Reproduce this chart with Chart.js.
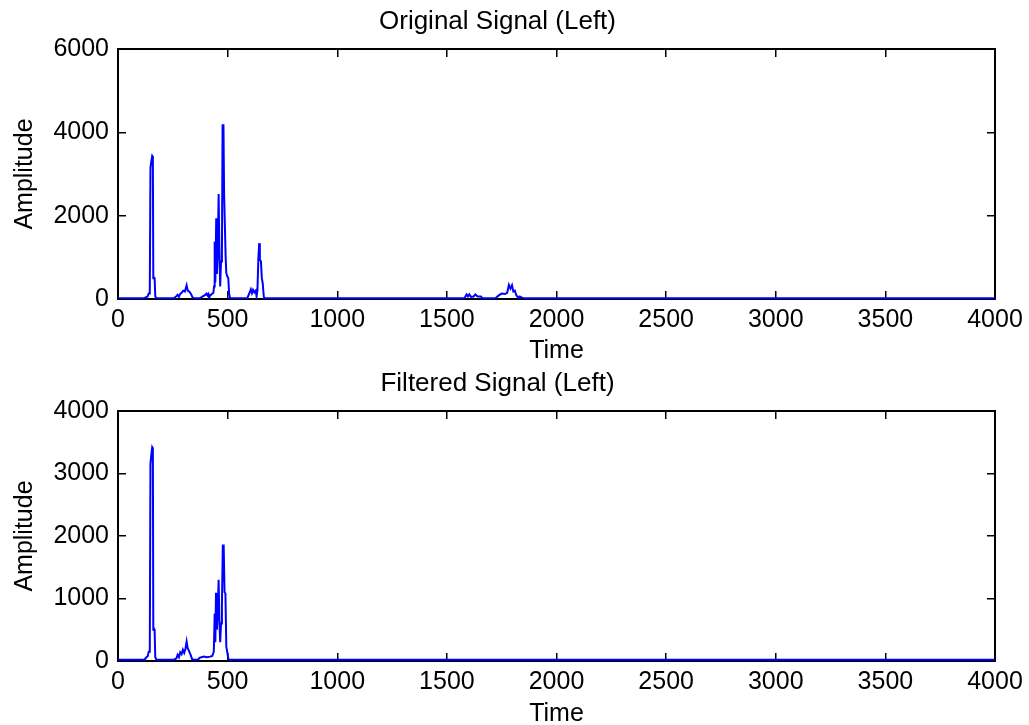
<!DOCTYPE html>
<html>
<head>
<meta charset="utf-8">
<title>Original / Filtered Signal (Left)</title>
<script src="https://cdn.jsdelivr.net/npm/chart.js@4.4.0/dist/chart.umd.min.js"></script>
<style>
  html, body { margin: 0; padding: 0; background: #fff; }
  #wrap { position: relative; width: 1029px; height: 725px; }
  #topChart { position: absolute; left: 0; top: 0; }
  #bottomChart { position: absolute; left: 0; top: 362px; }
</style>
</head>
<body>
<div id="wrap">
  <canvas id="topChart" width="1029" height="362"></canvas>
  <canvas id="bottomChart" width="1029" height="363"></canvas>
</div>
<script>
// tick labels
const timeTicks = [0, 500, 1000, 1500, 2000, 2500, 3000, 3500, 4000];
const origAmpTicks = [0, 2000, 4000, 6000];
const filtAmpTicks = [0, 1000, 2000, 3000, 4000];

// original signal
const origTime = [0, 120, 135, 140, 145, 148, 152, 156, 159, 161, 164, 167, 170, 175,
  255, 265, 272, 278, 283, 290, 298, 305, 313, 318, 325, 333, 340, 345,
  375, 385, 392, 398, 404, 408, 412,
  415, 420, 428, 435, 438, 441, 444, 448, 451, 455, 459, 462, 466, 470, 474, 477, 481, 484, 488, 491, 494, 498, 503, 507, 511,
  590, 600, 606, 611, 616, 622, 628, 632, 636, 640, 644, 647, 652, 656, 660, 665, 668,
  1580, 1590, 1596, 1602, 1610, 1622, 1630, 1640, 1655, 1662,
  1722, 1735, 1750, 1765, 1775, 1783, 1790, 1797, 1803, 1810, 1816, 1825, 1832, 1840, 1848, 4000];
const origAmp = [20, 20, 60, 130, 130, 3150, 3300, 3430, 3400, 500, 520, 500, 60, 20,
  20, 60, 100, 50, 120, 150, 200, 180, 330, 200, 180, 120, 40, 20,
  20, 60, 80, 100, 130, 90, 120,
  20, 80, 120, 150, 300, 1375, 400, 1940, 600, 1100, 2520, 1300, 300, 900, 1100, 4170, 4170, 2500, 2500, 1000, 620, 550, 500, 120, 20,
  20, 150, 230, 140, 220, 160, 200, 60, 200, 950, 1340, 950, 900, 500, 380, 60, 20,
  20, 110, 60, 110, 50, 60, 110, 60, 60, 20,
  20, 80, 130, 120, 150, 340, 250, 330, 180, 200, 100, 30, 60, 40, 20, 20];

// filtered signal
const filtTime = [0, 120, 130, 136, 140, 145, 148, 152, 156, 159, 161, 164, 167, 170, 175,
  255, 266, 272, 278, 284, 290, 296, 302, 308, 313, 318, 324, 332, 338, 345,
  365, 372, 380, 392, 405, 420, 430,
  437, 441, 444, 447, 451, 455, 459, 462, 466, 470, 474, 478, 482, 486, 490, 494, 498, 504, 4000];
const filtAmp = [20, 20, 60, 80, 150, 150, 3150, 3300, 3420, 3400, 500, 520, 500, 60, 20,
  20, 40, 100, 60, 140, 110, 180, 130, 200, 310, 200, 160, 90, 30, 20,
  20, 50, 60, 70, 60, 70, 80,
  150, 760, 300, 1090, 500, 800, 1300, 700, 300, 600, 900, 1850, 1850, 1100, 1080, 230, 150, 20, 20];

const FONT = "'Liberation Sans', Arial, Helvetica, sans-serif";

drawPanel("topChart", "Original Signal (Left)", origTime, origAmp, origAmpTicks);
drawPanel("bottomChart", "Filtered Signal (Left)", filtTime, filtAmp, filtAmpTicks);

// one subplot = one chart
function drawPanel(canvasId, titleText, times, amps, ampTicks) {
  const ctx = document.getElementById(canvasId).getContext("2d");
  const h = ctx.canvas.height;
  const points = times.map((t, i) => ({ x: t, y: amps[i] }));
  const tickFont = { family: FONT, size: 25, lineHeight: 1 };
  const setTicks = (list) => (s) => { s.ticks = list.map((v) => ({ value: v })); };
  const plain = (v) => String(v); // no thousands comma
  // inward ticks like matlab: negative tickLength
  const grid = { drawOnChartArea: false, tickLength: -8, color: "#000", lineWidth: 1.5 };
  const border = { color: "#000", width: 2 };
  const ampMax = ampTicks[ampTicks.length - 1];

  return new Chart(ctx, {
    type: "line",
    data: {
      datasets: [{
        data: points,
        borderColor: "#0000ff",
        borderWidth: 2,
        pointRadius: 0,
        tension: 0,
        fill: false,
      }],
    },
    options: {
      responsive: false,
      animation: false,
      events: [],
      layout: { padding: { left: 0, right: 34, top: 0, bottom: 0 } },
      plugins: {
        legend: { display: false },
        tooltip: { enabled: false },
        title: {
          display: true,
          text: titleText,
          color: "#000",
          font: { family: FONT, size: 26, weight: "normal", lineHeight: 1 },
          padding: { top: 9, bottom: 14 },
        },
      },
      scales: {
        x: {
          type: "linear", position: "bottom", min: 0, max: 4000,
          afterBuildTicks: setTicks(timeTicks),
          afterFit: (s) => {
            s.height = h - 299;
            // keep label overflow from shrinking the plot box
            s.paddingLeft = 0;
            s.paddingRight = 0;
          },
          ticks: { color: "#000", font: tickFont, padding: 17, maxRotation: 0, autoSkip: false, callback: plain },
          grid: grid, border: border,
          title: { display: true, text: "Time", color: "#000", font: { family: FONT, size: 25, lineHeight: 0.84 }, padding: 0 },
        },
        x2: {
          type: "linear", position: "top", min: 0, max: 4000,
          afterBuildTicks: setTicks(timeTicks),
          afterFit: (s) => { s.height = 0; s.paddingLeft = 0; s.paddingRight = 0; },
          ticks: { display: false },
          grid: grid, border: border,
        },
        y: {
          type: "linear", position: "left", min: 0, max: ampMax,
          afterBuildTicks: setTicks(ampTicks),
          afterFit: (s) => { s.width = 118; },
          ticks: { color: "#000", font: tickFont, padding: 17, autoSkip: false, callback: plain },
          grid: grid, border: border,
          title: { display: true, text: "Amplitude", color: "#000", font: tickFont, padding: { top: 13, bottom: 0 } },
        },
        y2: {
          type: "linear", position: "right", min: 0, max: ampMax,
          afterBuildTicks: setTicks(ampTicks),
          afterFit: (s) => { s.width = 0; },
          ticks: { display: false },
          grid: grid, border: border,
        },
      },
    },
  });
}
</script>
</body>
</html>
